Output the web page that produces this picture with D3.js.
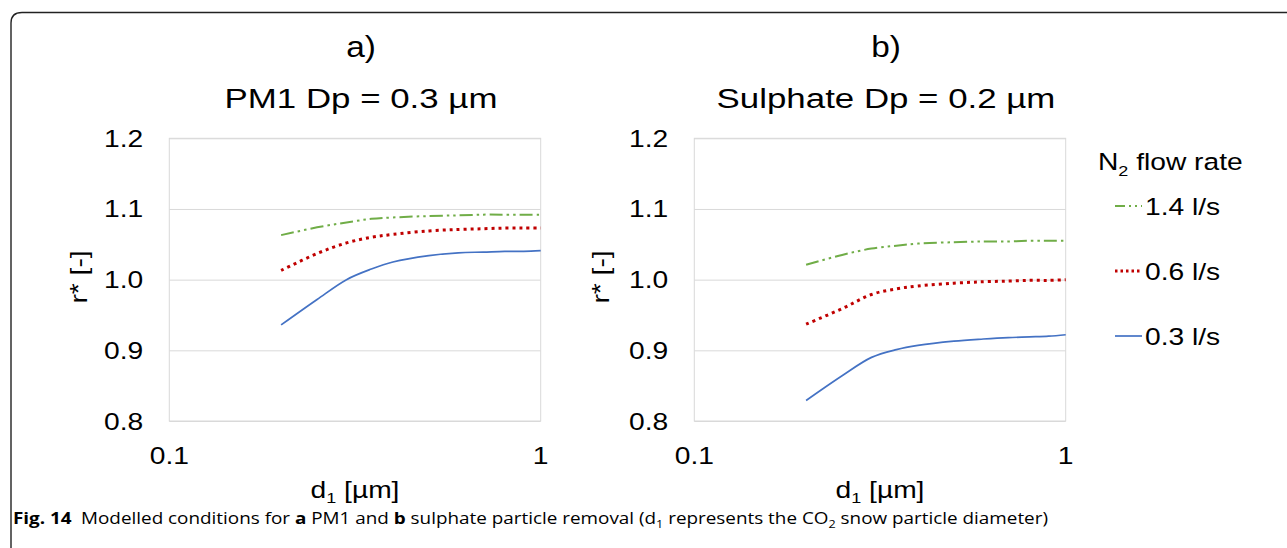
<!DOCTYPE html>
<html>
<head>
<meta charset="utf-8">
<script src="https://cdn.jsdelivr.net/npm/d3@7"></script>
<style>
  body { margin: 0; background: #fff; }
  svg text { font-family: "Liberation Sans", Arial, sans-serif; fill: #000; }
  .cap text { font-family: "Open Sans", sans-serif; }
</style>
</head>
<body>
<svg id="chart"></svg>
<script>
// d1 values (µm) shared by both panels
const d1 = [0.2, 0.25, 0.3, 0.35, 0.4, 0.5, 0.6, 0.7, 0.8, 0.9, 1.0];

// panel a) PM1 Dp = 0.3 µm
const pm1_14 = [1.063, 1.074, 1.081, 1.086, 1.088, 1.090, 1.091, 1.092, 1.092, 1.092, 1.092];
const pm1_06 = [1.013, 1.037, 1.052, 1.060, 1.064, 1.069, 1.071, 1.072, 1.073, 1.073, 1.073];
const pm1_03 = [0.936, 0.972, 1.000, 1.015, 1.025, 1.034, 1.038, 1.039, 1.040, 1.040, 1.041];

// panel b) Sulphate Dp = 0.2 µm
const sul_14 = [1.021, 1.035, 1.044, 1.048, 1.051, 1.053, 1.054, 1.054, 1.055, 1.055, 1.055];
const sul_06 = [0.937, 0.959, 0.979, 0.987, 0.991, 0.995, 0.997, 0.998, 0.999, 0.999, 1.000];
const sul_03 = [0.829, 0.864, 0.890, 0.901, 0.907, 0.913, 0.916, 0.918, 0.919, 0.920, 0.922];

const seriesNames = ["1.4 l/s", "0.6 l/s", "0.3 l/s"];
const yTicks = [0.8, 0.9, 1.0, 1.1, 1.2];
const xTicks = [0.1, 1];

const W = 1287, H = 548;
const svg = d3.select("#chart").attr("width", W).attr("height", H);

// series styles
const styles = [
  { color: "#70AD47", width: 2, dash: "13,4,2.5,4,2.5,4", cap: "butt" },
  { color: "#C00000", width: 3, dash: "3,4", cap: "butt" },
  { color: "#4472C4", width: 1.7, dash: null, cap: "butt" }
];

const SX = 1.2; // source text is horizontally stretched

function txt(g, x, y, str, size, anchor, sx) {
  return g.append("text")
    .attr("transform", `translate(${x},${y}) scale(${sx || SX},1)`)
    .attr("text-anchor", anchor || "middle")
    .attr("font-size", size)
    .text(str);
}

// frame
svg.append("path")
  .attr("d", `M11,${H} V23 Q11,12.5 22,12.5 H${W}`)
  .attr("fill", "none").attr("stroke", "#222").attr("stroke-width", 1.4);

const panels = [
  { left: 169.3, letter: "a)", title: "PM1 Dp = 0.3 µm", data: [pm1_14, pm1_06, pm1_03], yLab: 87 },
  { left: 694.3, letter: "b)", title: "Sulphate Dp = 0.2 µm", data: [sul_14, sul_06, sul_03], yLab: 609 }
];

const plotW = 371.4, plotTop = 138.3, plotBottom = 421;

panels.forEach(p => {
  const x = d3.scaleLog().domain([0.1, 1]).range([p.left, p.left + plotW]);
  const y = d3.scaleLinear().domain([0.8, 1.2]).range([plotBottom, plotTop]);
  const g = svg.append("g");

  // plot box
  g.append("rect")
    .attr("x", x(0.1)).attr("y", y(1.2))
    .attr("width", x(1) - x(0.1)).attr("height", y(0.8) - y(1.2))
    .attr("fill", "none").attr("stroke", "#d9d9d9").attr("stroke-width", 1);

  // gridlines
  const yAxis = d3.axisLeft(y).tickValues(yTicks).tickSize(-(x(1) - x(0.1))).tickFormat("");
  const ga = g.append("g").attr("transform", `translate(${x(0.1)},0)`).call(yAxis);
  ga.select(".domain").remove();
  ga.selectAll(".tick line").attr("stroke", "#d9d9d9");

  // y tick labels
  yTicks.forEach(t => txt(g, x(0.1) - 26, y(t) + 8.5, d3.format(".1f")(t), 23.5, "end"));
  // x tick labels
  xTicks.forEach(t => txt(g, x(t), 464, String(t), 23.5, "middle"));

  // x title with subscript
  const xt = g.append("text")
    .attr("transform", `translate(${x(0.1) + plotW / 2},498) scale(${SX},1)`)
    .attr("text-anchor", "middle").attr("font-size", 23.5);
  xt.append("tspan").text("d");
  xt.append("tspan").attr("font-size", 15).attr("dy", 5).text("1");
  xt.append("tspan").attr("dy", -5).text(" [µm]");

  // y title
  g.append("text")
    .attr("transform", `translate(${p.yLab},277) rotate(-90) scale(${SX},1)`)
    .attr("text-anchor", "middle").attr("font-size", 23.5)
    .text("r* [-]");

  // titles
  txt(g, x(0.1) + plotW / 2 + 6, 57, p.letter, 29, "middle", 1.15);
  txt(g, x(0.1) + plotW / 2 + 6, 108, p.title, 28, "middle", 1.245);

  const line = d3.line()
    .x((d, i) => x(d1[i]))
    .y(d => y(d))
    .curve(d3.curveCatmullRom.alpha(0.5));

  p.data.forEach((vals, k) => {
    const s = styles[k];
    g.append("path")
      .datum(vals)
      .attr("d", line)
      .attr("fill", "none")
      .attr("stroke", s.color)
      .attr("stroke-width", s.width)
      .attr("stroke-linecap", s.cap)
      .attr("stroke-dasharray", s.dash);
  });
});

// legend
const lg = svg.append("g");
const lt = lg.append("text")
  .attr("transform", `translate(1098,170) scale(${SX},1)`)
  .attr("font-size", 23.5);
lt.append("tspan").text("N");
lt.append("tspan").attr("font-size", 15).attr("dy", 6).text("2");
lt.append("tspan").attr("dy", -6).text(" flow rate");

const legY = [206, 271, 336];
seriesNames.forEach((name, k) => {
  const s = styles[k];
  lg.append("line")
    .attr("x1", 1115).attr("x2", 1142)
    .attr("y1", legY[k]).attr("y2", legY[k])
    .attr("stroke", s.color)
    .attr("stroke-width", s.width)
    .attr("stroke-linecap", s.cap)
    .attr("stroke-dasharray", k === 0 ? "10,4,2,4,2,4" : (k === 1 ? "2.5,3" : null));
  txt(lg, 1145, legY[k] + 9, name, 23.5, "start");
});

// caption
const cap = svg.append("g").attr("class", "cap");
const ct = cap.append("text").attr("x", 13).attr("y", 524).attr("font-size", 16.5)
  .attr("textLength", 1035).attr("lengthAdjust", "spacingAndGlyphs");
ct.append("tspan").attr("font-weight", "bold").text("Fig. 14");
ct.append("tspan").text("\u2002Modelled conditions for ");
ct.append("tspan").attr("font-weight", "bold").text("a");
ct.append("tspan").text(" PM1 and ");
ct.append("tspan").attr("font-weight", "bold").text("b");
ct.append("tspan").text(" sulphate particle removal (d");
ct.append("tspan").attr("font-size", 11).attr("dy", 4).text("1");
ct.append("tspan").attr("dy", -4).text(" represents the CO");
ct.append("tspan").attr("font-size", 11).attr("dy", 4).text("2");
ct.append("tspan").attr("dy", -4).text(" snow particle diameter)");
</script>
</body>
</html>
